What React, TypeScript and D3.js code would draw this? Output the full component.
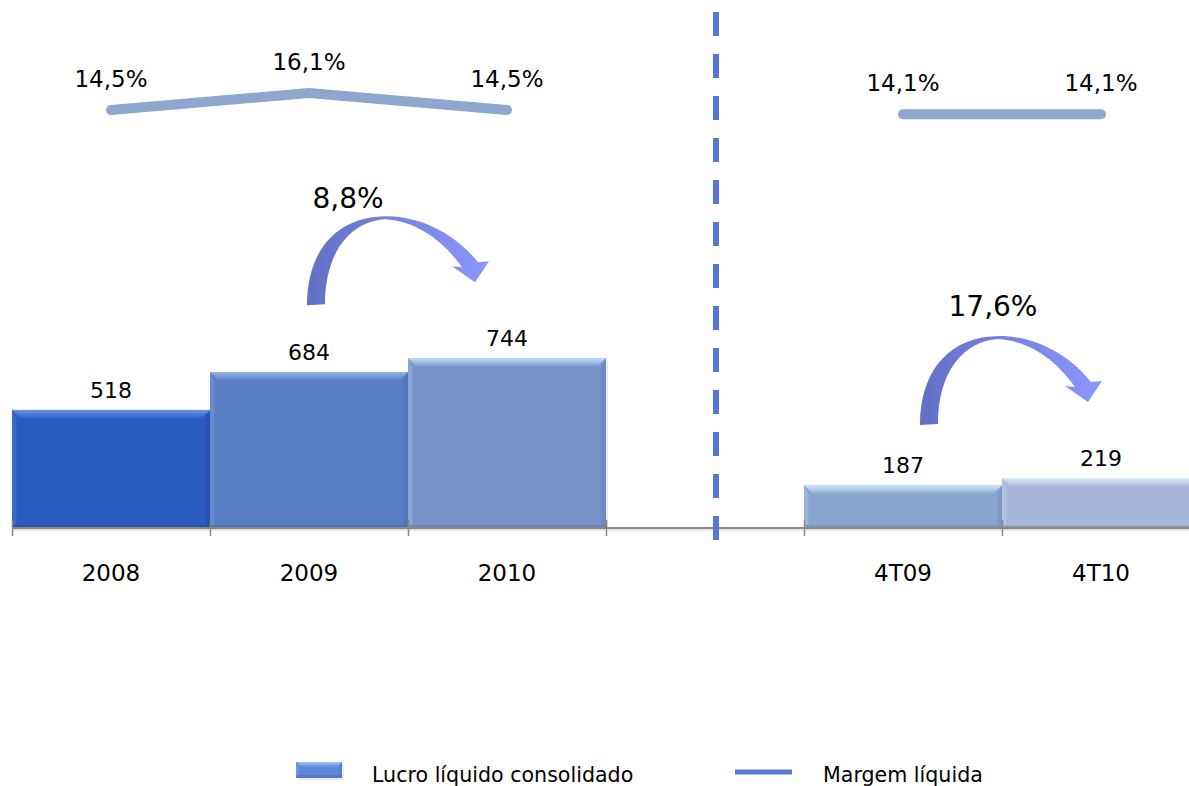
import React from "react";
import * as d3 from "d3";

// dados
const categories = ["2008", "2009", "2010", "", "4T09", "4T10"];
const lucro: (number | null)[] = [518, 684, 744, null, 187, 219];
const margem: (number | null)[] = [14.5, 16.1, 14.5, null, 14.1, 14.1];
const margemLabels = ["14,5%", "16,1%", "14,5%", "", "14,1%", "14,1%"];
const crescimento = [
  { from: "2009", to: "2010", label: "8,8%" },
  { from: "4T09", to: "4T10", label: "17,6%" },
];
const legendItems = ["Lucro líquido consolidado", "Margem líquida"];

const barColors = ["#2a5bbf", "#5a7ec3", "#7793c9", "", "#8aa4d0", "#a6b7da"];
const barLights = ["#6a95e8", "#8fb2ee", "#c0dbfa", "", "#cfe6fc", "#dcebfd"];

const W = 1189;
const H = 786;
const FONT = "'DejaVu Sans', Verdana, sans-serif";

const x = d3.scaleBand<string>().domain(categories).range([12, 1200]).padding(0);
const y = d3.scaleLinear().domain([0, 1000]).range([528, 300]);
const ym = d3.scaleLinear().domain([14.5, 16.1]).range([110, 93]);

const arrowPath =
  "M 0 0 C 0 -55, 30 -89, 80 -89 C 115 -89, 150 -70, 171 -43 L 182 -44 L 168 -23 L 145 -39 L 155 -38 C 138 -62, 112 -84, 78 -86 C 45 -84, 18 -55, 18 -1 Z";
const arrowNudge = [-2, 17];
const arrowLabelPos = [
  [41, -97],
  [73, -109],
];

function Bar({ x0, y0, w, h, color, light }: any) {
  const b = Math.min(9, h / 3);
  const dark = d3.color(color)!.darker(0.6).formatHex();
  const gid = "g" + Math.round(x0) + "_" + Math.round(y0);
  return (
    <g>
      <defs>
        <linearGradient id={gid} x1="0" y1="0" x2="0" y2="1">
          <stop offset="0%" stopColor={light} />
          <stop offset="100%" stopColor={color} />
        </linearGradient>
      </defs>
      <rect x={x0 + 2} y={y0 + 2} width={w} height={h} fill="#000" opacity={0.08} />
      <rect x={x0} y={y0} width={w} height={h} fill={color} />
      <polygon
        points={`${x0},${y0} ${x0 + w},${y0} ${x0 + w - b},${y0 + b} ${x0 + b},${y0 + b}`}
        fill={`url(#${gid})`}
      />
      <polygon
        points={`${x0},${y0} ${x0 + b * 0.5},${y0 + b} ${x0 + b * 0.5},${y0 + h - 3} ${x0},${y0 + h}`}
        fill={light}
        opacity={0.25}
      />
      <polygon
        points={`${x0 + w},${y0} ${x0 + w - b * 0.5},${y0 + b} ${x0 + w - b * 0.5},${y0 + h - 3} ${x0 + w},${y0 + h}`}
        fill={dark}
        opacity={0.35}
      />
      <rect x={x0} y={y0 + h - 3} width={w} height={3} fill={dark} opacity={0.5} />
    </g>
  );
}

export default function App() {
  const bw = x.bandwidth();
  const cx = (c: string) => (x(c) as number) + bw / 2;
  const base = y(0);

  const line = d3
    .line<number | null>()
    .defined((d) => d !== null)
    .x((_, i) => cx(categories[i]))
    .y((d) => ym(d as number));

  const gapX = cx("") + 11;

  return (
    <svg
      width={W}
      height={H}
      style={{ position: "absolute", left: 0, top: 0, background: "#fff" }}
      fontFamily={FONT}
    >
      <defs>
        <linearGradient id="arrowGrad" x1="0" y1="0" x2="1" y2="0">
          <stop offset="0%" stopColor="#6270c6" />
          <stop offset="100%" stopColor="#8b98fc" />
        </linearGradient>
      </defs>

      {/* barras */}
      {lucro.map((v, i) =>
        v === null ? null : (
          <Bar
            key={i}
            x0={x(categories[i])}
            y0={y(v)}
            w={bw}
            h={base - y(v)}
            color={barColors[i]}
            light={barLights[i]}
          />
        )
      )}

      {/* eixo */}
      <line x1={12} x2={W} y1={base + 2} y2={base + 2} stroke="#d0d0d0" strokeWidth={1} />
      <line x1={12} x2={W} y1={base} y2={base} stroke="#888" strokeWidth={2} />
      {categories.map((c, i) => (
        <line key={i} x1={x(c)! + 0.5} x2={x(c)! + 0.5} y1={base - 8} y2={base + 8} stroke="#888" strokeWidth={1.5} />
      ))}
      {categories.map((c, i) => (
        <text key={i} x={cx(c)} y={581} textAnchor="middle" fontSize={23} fill="#000">
          {c}
        </text>
      ))}

      {/* rótulos das barras */}
      {lucro.map((v, i) =>
        v === null ? null : (
          <text key={i} x={cx(categories[i])} y={y(v) - 12} textAnchor="middle" fontSize={22} fill="#000">
            {v}
          </text>
        )
      )}

      {/* margem líquida */}
      <path
        d={line(margem) || ""}
        fill="none"
        stroke="#8fa7cf"
        strokeWidth={10}
        strokeLinecap="round"
        strokeLinejoin="round"
      />
      {margem.map((v, i) =>
        v === null ? null : (
          <text key={i} x={cx(categories[i])} y={ym(v) - 23} textAnchor="middle" fontSize={23} fill="#000">
            {margemLabels[i]}
          </text>
        )
      )}

      {/* divisória */}
      <line x1={gapX} x2={gapX} y1={12} y2={540} stroke="#5577dd" strokeWidth={6} strokeDasharray="24 18" />

      {/* setas de crescimento */}
      {crescimento.map((a, i) => {
        const ox = cx(a.from) + arrowNudge[i];
        const oy = y(lucro[categories.indexOf(a.to)] as number) - 53;
        return (
          <g key={i}>
            <path d={arrowPath} transform={`translate(${ox},${oy})`} fill="url(#arrowGrad)" />
            <text
              x={ox + arrowLabelPos[i][0]}
              y={oy + arrowLabelPos[i][1]}
              textAnchor="middle"
              fontSize={28}
              fill="#000"
            >
              {a.label}
            </text>
          </g>
        );
      })}

      {/* legenda */}
      <g>
        <Bar x0={296} y0={762} w={46} h={16} color="#5f86da" light="#a8c6f6" />
        <text x={372} y={782} fontSize={20.6} fill="#000">
          {legendItems[0]}
        </text>
        <line x1={735} x2={792} y1={772} y2={772} stroke="#5577d8" strokeWidth={5} />
        <text x={823} y={782} fontSize={20.6} fill="#000">
          {legendItems[1]}
        </text>
      </g>
    </svg>
  );
}
